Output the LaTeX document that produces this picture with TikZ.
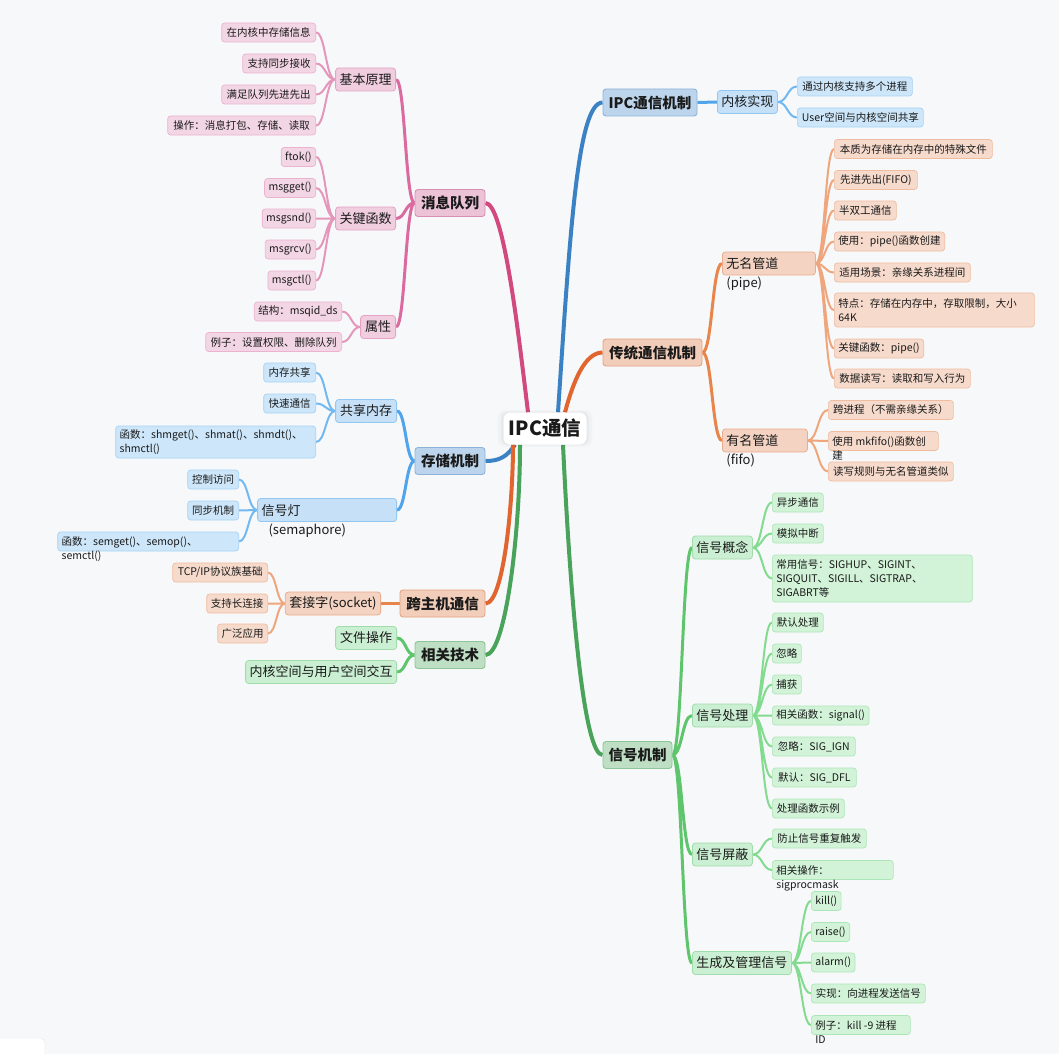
\documentclass[tikz,border=0pt]{standalone}
\usepackage{fontspec}
\setmainfont{Noto Sans CJK SC}
\usetikzlibrary{calc,shadows}
\pgfdeclarelayer{bg}
\pgfsetlayers{bg,main}

\definecolor{paper}{HTML}{F7F8FA}
\definecolor{ink}{HTML}{1A1A1A}
% pink branch
\definecolor{pkA}{HTML}{D1497F}
\definecolor{pkB}{HTML}{DA6A9F}
\definecolor{pkC}{HTML}{E596BB}
\definecolor{pkF1}{HTML}{EBC2D6}\definecolor{pkD1}{HTML}{D98EB2}
\definecolor{pkF2}{HTML}{F0CEE0}\definecolor{pkD2}{HTML}{E4A3C4}
\definecolor{pkF3}{HTML}{F3D6E5}\definecolor{pkD3}{HTML}{ECB2CE}
% blue branch
\definecolor{blA}{HTML}{3B82C4}
\definecolor{blB}{HTML}{4FA4EA}
\definecolor{blC}{HTML}{72B9F2}
\definecolor{blF1}{HTML}{BCD5EC}\definecolor{blD1}{HTML}{8CB4DA}
\definecolor{blF2}{HTML}{C5E0F7}\definecolor{blD2}{HTML}{92C7F1}
\definecolor{blF3}{HTML}{CDE6F9}\definecolor{blD3}{HTML}{A7D3F5}
% orange branch
\definecolor{orA}{HTML}{E0652E}
\definecolor{orB}{HTML}{E8854A}
\definecolor{orC}{HTML}{EFA67D}
\definecolor{orF1}{HTML}{F2CDB9}\definecolor{orD1}{HTML}{E5A484}
\definecolor{orF2}{HTML}{F4D3C2}\definecolor{orD2}{HTML}{EBAD8D}
\definecolor{orF3}{HTML}{F6DACC}\definecolor{orD3}{HTML}{F0BC9F}
% green branch
\definecolor{grA}{HTML}{4AA35A}
\definecolor{grB}{HTML}{5EC56D}
\definecolor{grC}{HTML}{82DB8E}
\definecolor{grF1}{HTML}{BEDFC3}\definecolor{grD1}{HTML}{8CC596}
\definecolor{grF2}{HTML}{CBEFD2}\definecolor{grD2}{HTML}{A0DDAA}
\definecolor{grF3}{HTML}{D2F3D8}\definecolor{grD3}{HTML}{ACE6B6}

\begin{document}
\begin{tikzpicture}[x=1pt,y=-1pt,
    nbox/.style={draw, rounded corners=3pt, inner xsep=4pt, inner ysep=0pt, text=ink},
    lvtop/.style={nbox, line width=0.9pt, minimum height=27pt, font=\fontsize{14.5}{17}\selectfont\bfseries},
    lvmid/.style={nbox, line width=0.8pt, minimum height=23pt, font=\fontsize{13}{19}\selectfont},
    lvleaf/.style={nbox, line width=0.7pt, minimum height=19pt, font=\fontsize{10.5}{14}\selectfont},
    spill/.style={text depth=0pt},
    pk1/.style={lvtop, fill=pkF1, draw=pkD1}, pk2/.style={lvmid, fill=pkF2, draw=pkD2}, pk3/.style={lvleaf, fill=pkF3, draw=pkD3},
    bl1/.style={lvtop, fill=blF1, draw=blD1}, bl2/.style={lvmid, fill=blF2, draw=blD2}, bl3/.style={lvleaf, fill=blF3, draw=blD3},
    or1/.style={lvtop, fill=orF1, draw=orD1}, or2/.style={lvmid, fill=orF2, draw=orD2}, or3/.style={lvleaf, fill=orF3, draw=orD3},
    gr1/.style={lvtop, fill=grF1, draw=grD1}, gr2/.style={lvmid, fill=grF2, draw=grD2}, gr3/.style={lvleaf, fill=grF3, draw=grD3},
    pkline1/.style={draw=pkA, line width=4pt}, pkline2/.style={draw=pkB, line width=3pt}, pkline3/.style={draw=pkC, line width=2pt},
    blline1/.style={draw=blA, line width=4pt}, blline2/.style={draw=blB, line width=3pt}, blline3/.style={draw=blC, line width=2pt},
    orline1/.style={draw=orA, line width=4pt}, orline2/.style={draw=orB, line width=3pt}, orline3/.style={draw=orC, line width=2pt},
    grline1/.style={draw=grA, line width=4pt}, grline2/.style={draw=grB, line width=3pt}, grline3/.style={draw=grC, line width=2pt},
    sbend/.style={to path={.. controls ($(\tikztostart)!0.5!(\tikztostart -| \tikztotarget)$) and ($(\tikztotarget)!0.5!(\tikztotarget -| \tikztostart)$) .. (\tikztotarget)}}
  ]
    \useasboundingbox (0,0) rectangle (1059,1054);

    % centre
    \node[fill=white, rounded corners=7pt, minimum width=83pt, minimum height=32pt, inner sep=0pt, text=ink,
          font=\fontsize{19.5}{22}\selectfont\bfseries,
          general shadow={fill=black, opacity=0.025, shadow scale=1.14},
          general shadow={fill=black, opacity=0.035, shadow scale=1.06}] (ipc) at (545,428.5) {IPC通信};

    % message queue
    \node[pk1, minimum width=70pt] (xq) at (450,203) {消息队列};
    \node[pk2, anchor=east, minimum width=60pt] (jbyl) at (396,79.5) {基本原理};
    \node[pk2, anchor=east, minimum width=60pt] (gjhs) at (396,218.5) {关键函数};
    \node[pk2, anchor=east, minimum width=35pt] (sx) at (396,327) {属性};
    \node[pk3, anchor=east, minimum width=94pt] (jb1) at (316,32.5) {在内核中存储信息};
    \node[pk3, anchor=east, minimum width=73pt] (jb2) at (316,63.5) {支持同步接收};
    \node[pk3, anchor=east, minimum width=94pt] (jb3) at (316,94.5) {满足队列先进先出};
    \node[pk3, anchor=east, minimum width=148pt] (jb4) at (316,125.5) {操作：消息打包、存储、读取};
    \node[pk3, anchor=east, minimum width=33pt] (gj1) at (316,157) {ftok()};
    \node[pk3, anchor=east, minimum width=51pt] (gj2) at (316,188) {msgget()};
    \node[pk3, anchor=east, minimum width=53pt] (gj3) at (316,218.5) {msgsnd()};
    \node[pk3, anchor=east, minimum width=50pt] (gj4) at (316,249.5) {msgrcv()};
    \node[pk3, anchor=east, minimum width=47pt] (gj5) at (316,280.5) {msgctl()};
    \node[pk3, anchor=east, minimum width=86pt] (sx1) at (342,311.5) {结构：msqid\_ds};
    \node[pk3, anchor=east, minimum width=136pt] (sx2) at (342,342) {例子：设置权限、删除队列};

    % storage
    \node[bl1, minimum width=70pt] (cc) at (450,461) {存储机制};
    \node[bl2, anchor=east, minimum width=61pt] (gxnc) at (397,411) {共享内存};
    \node[bl2, spill, anchor=east, minimum width=139pt] (xhd) at (397,510) {\parbox[t]{131pt}{信号灯\\\hspace*{7pt}(semaphore)}};
    \node[bl3, anchor=east, minimum width=52pt] (gx1) at (316,372.5) {内存共享};
    \node[bl3, anchor=east, minimum width=52pt] (gx2) at (316,403.5) {快速通信};
    \node[bl3, anchor=east, text width=192pt, align=left, minimum height=32pt] (gx3) at (316,442) {函数：shmget()、shmat()、shmdt()、\\shmctl()};
    \node[bl3, anchor=east, minimum width=51pt] (xd1) at (239,479.5) {控制访问};
    \node[bl3, anchor=east, minimum width=51pt] (xd2) at (239,510.5) {同步机制};
    \node[bl3, spill, anchor=east, minimum width=181pt] (xd3) at (239,541.5) {\parbox[t]{173pt}{函数：semget()、semop()、\\semctl()}};

    % across hosts
    \node[or1, minimum width=85pt] (kz) at (442.5,603.5) {跨主机通信};
    \node[or2, anchor=east, minimum width=93pt] (tjz) at (381,603.5) {套接字(socket)};
    \node[or3, anchor=east, minimum width=95pt] (tj1) at (268,572.5) {TCP/IP协议族基础};
    \node[or3, anchor=east, minimum width=61pt] (tj2) at (268,603.5) {支持长连接};
    \node[or3, anchor=east, minimum width=50pt] (tj3) at (268,633.5) {广泛应用};

    % related
    \node[gr1, minimum width=70pt] (xg) at (450,655) {相关技术};
    \node[gr2, anchor=east, minimum width=61pt] (wjcz) at (397,638) {文件操作};
    \node[gr2, anchor=east, minimum width=150pt] (nhkj) at (397,672) {内核空间与用户空间交互};

    % IPC mechanism
    \node[bl1, minimum width=94pt] (ipcjz) at (650,102.5) {IPC通信机制};
    \node[bl2, anchor=west, minimum width=60pt] (nhsx) at (717,102) {内核实现};
    \node[bl3, anchor=west, minimum width=115pt] (nh1) at (797,86.5) {通过内核支持多个进程};
    \node[bl3, anchor=west, minimum width=126pt] (nh2) at (797,117.5) {User空间与内核空间共享};

    % pipes
    \node[or1, minimum width=99pt] (ct) at (652.5,352.5) {传统通信机制};
    \node[or2, spill, anchor=west, minimum width=93pt] (wmgd) at (722,263.5) {\parbox[t]{85pt}{无名管道\\(pipe)}};
    \node[or2, spill, anchor=west, minimum width=85pt] (ymgd) at (722,440.5) {\parbox[t]{77pt}{有名管道\\(fifo)}};
    \node[or3, anchor=west, minimum width=158pt] (wm1) at (834,149) {本质为存储在内存中的特殊文件};
    \node[or3, anchor=west, minimum width=83pt] (wm2) at (834,180) {先进先出(FIFO)};
    \node[or3, anchor=west, minimum width=62pt] (wm3) at (834,210.5) {半双工通信};
    \node[or3, anchor=west, minimum width=110pt] (wm4) at (834,241.5) {使用：pipe()函数创建};
    \node[or3, anchor=west, minimum width=136pt] (wm5) at (834,272.5) {适用场景：亲缘关系进程间};
    \node[or3, anchor=west, text width=192pt, align=left, minimum height=34pt] (wm6) at (834,310) {特点：存储在内存中，存取限制，大小\\64K};
    \node[or3, anchor=west, minimum width=89pt] (wm7) at (834,348.5) {关键函数：pipe()};
    \node[or3, anchor=west, minimum width=136pt] (wm8) at (834,378.5) {数据读写：读取和写入行为};
    \node[or3, anchor=west, minimum width=125pt] (ym1) at (828,410) {跨进程（不需亲缘关系）};
    \node[or3, spill, anchor=west, minimum width=110pt] (ym2) at (828,441) {\parbox[t]{102pt}{使用 mkfifo()函数创\\建}};
    \node[or3, anchor=west, minimum width=125pt] (ym3) at (828,471.5) {读写规则与无名管道类似};

    % signals
    \node[gr1, minimum width=69pt] (xh) at (637.5,755) {信号机制};
    \node[gr2, anchor=west, minimum width=60pt] (xhgn) at (692,547.5) {信号概念};
    \node[gr2, anchor=west, minimum width=60pt] (xhcl) at (692,715.5) {信号处理};
    \node[gr2, anchor=west, minimum width=60pt] (xhpb) at (692,854.5) {信号屏蔽};
    \node[gr2, anchor=west, minimum width=99pt] (scgl) at (692,963) {生成及管理信号};
    \node[gr3, anchor=west, minimum width=51pt] (gn1) at (772,502.5) {异步通信};
    \node[gr3, anchor=west, minimum width=51pt] (gn2) at (772,533.5) {模拟中断};
    \node[gr3, anchor=west, text width=192pt, align=left, minimum height=47pt] (gn3) at (772,578.5) {常用信号：SIGHUP、SIGINT、\\SIGQUIT、SIGILL、SIGTRAP、\\SIGABRT等};
    \node[gr3, anchor=west, minimum width=51pt] (cl1) at (772,622.5) {默认处理};
    \node[gr3, anchor=west, minimum width=29pt] (cl2) at (772,653.5) {忽略};
    \node[gr3, anchor=west, minimum width=29pt] (cl3) at (772,684.5) {捕获};
    \node[gr3, anchor=west, minimum width=96pt] (cl4) at (772,715.5) {相关函数：signal()};
    \node[gr3, anchor=west, minimum width=83pt] (cl5) at (772,746.5) {忽略：SIG\_IGN};
    \node[gr3, anchor=west, minimum width=84pt] (cl6) at (772,777.5) {默认：SIG\_DFL};
    \node[gr3, anchor=west, minimum width=72pt] (cl7) at (772,808.5) {处理函数示例};
    \node[gr3, anchor=west, minimum width=94pt] (pb1) at (772,838.5) {防止信号重复触发};
    \node[gr3, spill, anchor=west, minimum width=121pt] (pb2) at (772,870) {\parbox[t]{113pt}{相关操作：\\sigprocmask}};
    \node[gr3, anchor=west, minimum width=27pt] (sc1) at (811,901) {kill()};
    \node[gr3, anchor=west, minimum width=38pt] (sc2) at (811,932) {raise()};
    \node[gr3, anchor=west, minimum width=41pt] (sc3) at (811,962.5) {alarm()};
    \node[gr3, anchor=west, minimum width=114pt] (sc4) at (811,993.5) {实现：向进程发送信号};
    \node[gr3, spill, anchor=west, minimum width=99pt] (sc5) at (811,1025) {\parbox[t]{91pt}{例子：kill -9 进程\\ID}};

    \begin{pgfonlayer}{bg}
    \fill[paper] (0,0) rectangle (1059,1054);
    \draw[draw=black!10, fill=white, rounded corners=5pt] (-6,1038) rectangle (45,1062);
    % from the centre
    \draw[pkline1] ([xshift=-17pt]ipc.north) .. controls +(-10,-83) and +(18,0) .. (xq.east);
    \draw[blline1] ([xshift=-30pt]ipc.south) .. controls +(-8,12) and +(14,0) .. (cc.east);
    \draw[orline1] ([xshift=-32pt]ipc.south) .. controls +(0,60) and +(18,0) .. (kz.east);
    \draw[grline1] ([xshift=-25pt]ipc.south) .. controls +(0,90) and +(20,0) .. (xg.east);
    \draw[blline1] ([xshift=13pt]ipc.north) .. controls +(12,-180) and +(-25,0) .. (ipcjz.west);
    \draw[orline1] ([xshift=20pt]ipc.north) .. controls +(8,-30) and +(-18,0) .. (ct.west);
    \draw[grline1] ([xshift=18pt]ipc.south) .. controls +(8,170) and +(-18,0) .. (xh.west);
    % left side
    \draw[pkline2] (xq.west) to[sbend] (jbyl.east) (xq.west) to[sbend] (gjhs.east) (xq.west) to[sbend] (sx.east);
    \draw[pkline3] (jbyl.west) to[sbend] (jb1.east) (jbyl.west) to[sbend] (jb2.east) (jbyl.west) to[sbend] (jb3.east) (jbyl.west) to[sbend] (jb4.east);
    \draw[pkline3] (gjhs.west) to[sbend] (gj1.east) (gjhs.west) to[sbend] (gj2.east) (gjhs.west) to[sbend] (gj3.east) (gjhs.west) to[sbend] (gj4.east) (gjhs.west) to[sbend] (gj5.east);
    \draw[pkline3] (sx.west) to[sbend] (sx1.east) (sx.west) to[sbend] (sx2.east);
    \draw[blline2] (cc.west) to[sbend] (gxnc.east) (cc.west) to[sbend] (xhd.east);
    \draw[blline3] (gxnc.west) to[sbend] (gx1.east) (gxnc.west) to[sbend] (gx2.east) (gxnc.west) to[sbend] (gx3.east);
    \draw[blline3] (xhd.west) to[sbend] (xd1.east) (xhd.west) to[sbend] (xd2.east) (xhd.west) to[sbend] (xd3.east);
    \draw[orline2] (kz.west) -- (tjz.east);
    \draw[orline3] (tjz.west) to[sbend] (tj1.east) (tjz.west) to[sbend] (tj2.east) (tjz.west) to[sbend] (tj3.east);
    \draw[grline2] (xg.west) to[sbend] (wjcz.east) (xg.west) to[sbend] (nhkj.east);
    % right side
    \draw[blline2] (ipcjz.east) -- (nhsx.west);
    \draw[blline3] (nhsx.east) to[sbend] (nh1.west) (nhsx.east) to[sbend] (nh2.west);
    \draw[orline2] (ct.east) to[sbend] (wmgd.west) (ct.east) to[sbend] (ymgd.west);
    \draw[orline3] (wmgd.east) to[sbend] (wm1.west) (wmgd.east) to[sbend] (wm2.west) (wmgd.east) to[sbend] (wm3.west) (wmgd.east) to[sbend] (wm4.west)
                   (wmgd.east) to[sbend] (wm5.west) (wmgd.east) to[sbend] (wm6.west) (wmgd.east) to[sbend] (wm7.west) (wmgd.east) to[sbend] (wm8.west);
    \draw[orline3] (ymgd.east) to[sbend] (ym1.west) (ymgd.east) to[sbend] (ym2.west) (ymgd.east) to[sbend] (ym3.west);
    \draw[grline2] (xh.east) to[sbend] (xhgn.west) (xh.east) to[sbend] (xhcl.west) (xh.east) to[sbend] (xhpb.west) (xh.east) to[sbend] (scgl.west);
    \draw[grline3] (xhgn.east) to[sbend] (gn1.west) (xhgn.east) to[sbend] (gn2.west) (xhgn.east) to[sbend] (gn3.west);
    \draw[grline3] (xhcl.east) to[sbend] (cl1.west) (xhcl.east) to[sbend] (cl2.west) (xhcl.east) to[sbend] (cl3.west) (xhcl.east) to[sbend] (cl4.west)
                   (xhcl.east) to[sbend] (cl5.west) (xhcl.east) to[sbend] (cl6.west) (xhcl.east) to[sbend] (cl7.west);
    \draw[grline3] (xhpb.east) to[sbend] (pb1.west) (xhpb.east) to[sbend] (pb2.west);
    \draw[grline3] (scgl.east) to[sbend] (sc1.west) (scgl.east) to[sbend] (sc2.west) (scgl.east) to[sbend] (sc3.west) (scgl.east) to[sbend] (sc4.west) (scgl.east) to[sbend] (sc5.west);
    \end{pgfonlayer}
\end{tikzpicture}
\end{document}
